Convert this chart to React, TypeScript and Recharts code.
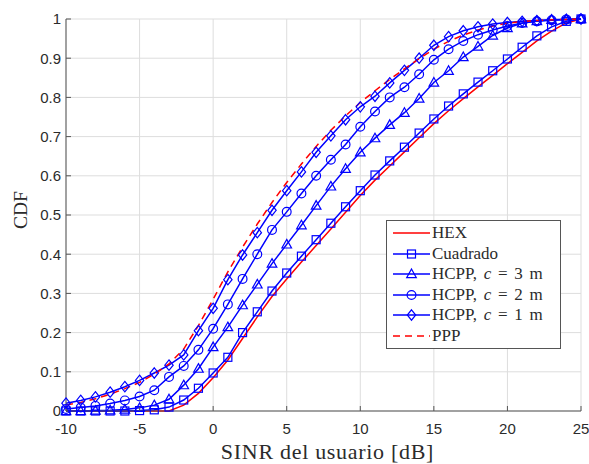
import React from "react";
import { LineChart, Line, XAxis, YAxis, CartesianGrid, Legend, Label } from "recharts";

// SINR grid in dB
const SINR_DB = [
  -10, -9, -8, -7, -6, -5, -4, -3, -2, -1, 0, 1, 2, 3, 4, 5, 6, 7, 8, 9, 10, 11, 12,
  13, 14, 15, 16, 17, 18, 19, 20, 21, 22, 23, 24, 25,
];

// CDF of the user SINR for each deployment model
const HEX = [
  0, 0, 0, 0, 0, 0, 0, 0, 0.015, 0.045, 0.085, 0.13, 0.185, 0.24, 0.292, 0.337, 0.38,
  0.422, 0.464, 0.507, 0.55, 0.589, 0.625, 0.661, 0.697, 0.733, 0.766, 0.797, 0.827,
  0.856, 0.886, 0.915, 0.944, 0.969, 0.99, 1,
];
const CUADRADO = [
  0, 0, 0, 0, 0, 0.001, 0.003, 0.01, 0.028, 0.058, 0.097, 0.137, 0.2, 0.253, 0.306,
  0.352, 0.395, 0.437, 0.479, 0.521, 0.562, 0.602, 0.638, 0.673, 0.709, 0.745, 0.778,
  0.809, 0.839, 0.868, 0.898, 0.928, 0.957, 0.98, 0.994, 1,
];
const HCPP_3M = [
  0, 0, 0.001, 0.002, 0.004, 0.008, 0.015, 0.03, 0.066, 0.108, 0.163, 0.214, 0.27,
  0.323, 0.376, 0.425, 0.474, 0.524, 0.573, 0.618, 0.66, 0.696, 0.73, 0.761, 0.797,
  0.838, 0.868, 0.903, 0.93, 0.958, 0.977, 0.989, 0.995, 0.998, 0.999, 1,
];
const HCPP_2M = [
  0.005, 0.009, 0.013, 0.019, 0.027, 0.037, 0.053, 0.087, 0.115, 0.156, 0.21, 0.272,
  0.337, 0.4, 0.462, 0.508, 0.555, 0.6, 0.641, 0.68, 0.725, 0.764, 0.8, 0.826, 0.859,
  0.896, 0.923, 0.944, 0.96, 0.972, 0.982, 0.99, 0.994, 0.997, 0.999, 1,
];
const HCPP_1M = [
  0.02, 0.027, 0.036, 0.048, 0.062, 0.078, 0.097, 0.117, 0.143, 0.205, 0.262, 0.335,
  0.398, 0.455, 0.512, 0.562, 0.61, 0.66, 0.702, 0.743, 0.776, 0.803, 0.837, 0.869, 0.9,
  0.933, 0.955, 0.97, 0.98, 0.987, 0.991, 0.994, 0.996, 0.998, 0.999, 1,
];
const PPP = [
  0.015, 0.022, 0.031, 0.043, 0.057, 0.073, 0.094, 0.12, 0.158, 0.218, 0.285, 0.355,
  0.418, 0.477, 0.532, 0.583, 0.63, 0.675, 0.716, 0.753, 0.787, 0.817, 0.846, 0.873,
  0.899, 0.923, 0.943, 0.959, 0.972, 0.982, 0.989, 0.994, 0.996, 0.998, 0.999, 1,
];

const X_TICKS = [-10, -5, 0, 5, 10, 15, 20, 25];
const Y_TICKS = [0, 0.1, 0.2, 0.3, 0.4, 0.5, 0.6, 0.7, 0.8, 0.9, 1];

const RED = "#ff0000";
const BLUE = "#0000ff";
const TEXT = "#2b2b2b";
const SERIF = '"Liberation Serif", "DejaVu Serif", serif';
const SANS = '"Liberation Sans", Arial, sans-serif';

const rows = SINR_DB.map((x, i) => ({
  x,
  hex: HEX[i],
  cuad: CUADRADO[i],
  c3: HCPP_3M[i],
  c2: HCPP_2M[i],
  c1: HCPP_1M[i],
  ppp: PPP[i],
}));

type MarkerKind = "none" | "square" | "triangle" | "circle" | "diamond";

function markerShape(kind: MarkerKind, cx: number, cy: number, key?: string) {
  const common = { fill: "none", stroke: BLUE, strokeWidth: 1.2, key };
  switch (kind) {
    case "square":
      return <rect {...common} x={cx - 4} y={cy - 4} width={8} height={8} />;
    case "triangle":
      return (
        <polygon
          {...common}
          points={`${cx},${cy - 5} ${cx + 4.8},${cy + 3.6} ${cx - 4.8},${cy + 3.6}`}
        />
      );
    case "circle":
      return <circle {...common} cx={cx} cy={cy} r={4.4} />;
    case "diamond":
      return (
        <polygon
          {...common}
          points={`${cx},${cy - 5.2} ${cx + 4.2},${cy} ${cx},${cy + 5.2} ${cx - 4.2},${cy}`}
        />
      );
    default:
      return <g key={key} />;
  }
}

const makeDot = (kind: MarkerKind) => (props: any) => {
  const { cx, cy, index } = props;
  const key = `${kind}-${index}`;
  if (cx == null || cy == null) return <g key={key} />;
  return markerShape(kind, cx, cy, key);
};

type SeriesDef = {
  key: string;
  color: string;
  dashed: boolean;
  marker: MarkerKind;
  label: React.ReactNode;
};

const SERIES: SeriesDef[] = [
  { key: "hex", color: RED, dashed: false, marker: "none", label: "HEX" },
  { key: "cuad", color: BLUE, dashed: false, marker: "square", label: "Cuadrado" },
  {
    key: "c3",
    color: BLUE,
    dashed: false,
    marker: "triangle",
    label: (
      <>
        HCPP, <i>c</i> = 3 m
      </>
    ),
  },
  {
    key: "c2",
    color: BLUE,
    dashed: false,
    marker: "circle",
    label: (
      <>
        HCPP, <i>c</i> = 2 m
      </>
    ),
  },
  {
    key: "c1",
    color: BLUE,
    dashed: false,
    marker: "diamond",
    label: (
      <>
        HCPP, <i>c</i> = 1 m
      </>
    ),
  },
  { key: "ppp", color: RED, dashed: true, marker: "none", label: "PPP" },
];

const LegendBox = () => (
  <div
    style={{
      width: 175,
      height: 129,
      boxSizing: "border-box",
      background: "#ffffff",
      border: "1px solid #555555",
      padding: "2px 0 0 0",
      fontFamily: SERIF,
      fontSize: 17,
      color: TEXT,
    }}
  >
    {SERIES.map((s) => (
      <div
        key={s.key}
        style={{ display: "flex", alignItems: "center", height: 20.5, whiteSpace: "nowrap" }}
      >
        <svg width={45} height={20} style={{ flex: "none" }}>
          <line
            x1={6}
            x2={43}
            y1={10}
            y2={10}
            stroke={s.color}
            strokeWidth={1.5}
            strokeDasharray={s.dashed ? "7 5" : undefined}
          />
          {markerShape(s.marker, 24.5, 10)}
        </svg>
        <span style={{ wordSpacing: 2.5 }}>{s.label}</span>
      </div>
    ))}
  </div>
);

export default function App() {
  return (
    <div style={{ position: "absolute", left: 0, top: 0, background: "#ffffff" }}>
      <LineChart
        width={589}
        height={464}
        data={rows}
        margin={{ top: 19, right: 8, bottom: 23, left: 16 }}
      >
        <CartesianGrid stroke="#dddddd" strokeWidth={1} />
        <XAxis
          dataKey="x"
          type="number"
          domain={[-10, 25]}
          ticks={X_TICKS}
          interval={0}
          height={30}
          tickSize={-5}
          tickMargin={17}
          stroke="#555555"
          tick={{ fill: TEXT, fontSize: 15, fontFamily: SANS }}
        >
          <Label
            content={(p: any) => {
              const vb = p.viewBox;
              return (
                <text
                  x={vb.x + vb.width / 2 + 4}
                  y={vb.y + 48}
                  textAnchor="middle"
                  fontFamily={SERIF}
                  fontSize={22}
                  letterSpacing={0.7}
                  fill={TEXT}
                >
                  SINR del usuario [dB]
                </text>
              );
            }}
          />
        </XAxis>
        <XAxis
          xAxisId="top"
          orientation="top"
          dataKey="x"
          type="number"
          domain={[-10, 25]}
          ticks={X_TICKS}
          interval={0}
          height={0}
          tick={false}
          tickSize={-5}
          stroke="#555555"
        />
        <YAxis
          type="number"
          domain={[0, 1]}
          ticks={Y_TICKS}
          interval={0}
          width={50}
          tickSize={-5}
          tickMargin={10}
          stroke="#555555"
          tick={{ fill: TEXT, fontSize: 15, fontFamily: SANS }}
        >
          <Label
            content={(p: any) => {
              const vb = p.viewBox;
              const tx = vb.x + 11;
              const ty = vb.y + vb.height / 2 - 5;
              return (
                <text
                  x={tx}
                  y={ty}
                  transform={`rotate(-90, ${tx}, ${ty})`}
                  textAnchor="middle"
                  fontFamily={SERIF}
                  fontSize={19.5}
                  fill={TEXT}
                >
                  CDF
                </text>
              );
            }}
          />
        </YAxis>
        <YAxis
          yAxisId="right"
          orientation="right"
          type="number"
          domain={[0, 1]}
          ticks={Y_TICKS}
          interval={0}
          width={0}
          tick={false}
          tickSize={-5}
          stroke="#555555"
        />
        {SERIES.map((s) => (
          <Line
            key={s.key}
            type="linear"
            dataKey={s.key}
            stroke={s.color}
            strokeWidth={1.5}
            strokeDasharray={s.dashed ? "7 5" : undefined}
            dot={s.marker === "none" ? false : makeDot(s.marker)}
            activeDot={false}
            isAnimationActive={false}
          />
        ))}
        <Legend
          layout="vertical"
          align="center"
          verticalAlign="middle"
          width={175}
          height={129}
          wrapperStyle={{ left: 386, top: 220, width: 175, height: 129 }}
          content={LegendBox}
        />
      </LineChart>
    </div>
  );
}
